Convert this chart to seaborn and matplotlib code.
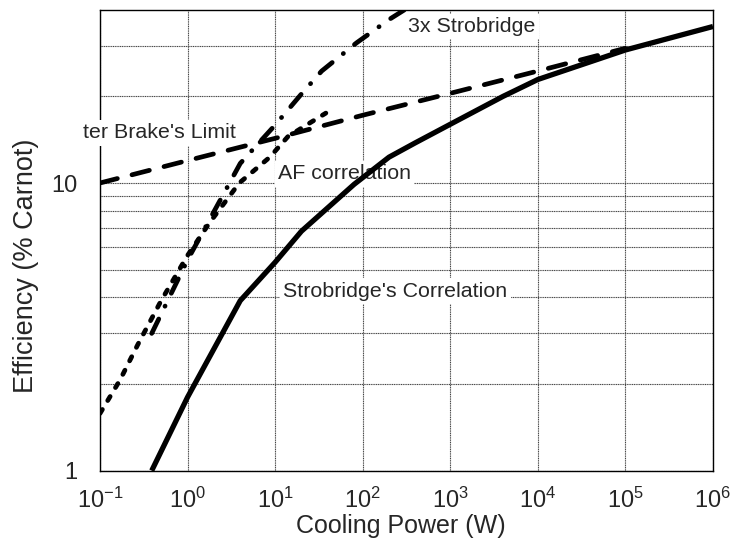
import numpy as np
import pandas as pd
import seaborn as sns
import matplotlib.pyplot as plt
from matplotlib.ticker import LogLocator, NullFormatter, FixedLocator

# Data (log-log axes)
strob_x = [0.39, 1, 2.5, 4, 10, 20, 80, 200, 400, 1000, 4000, 1e4, 1e5, 1e6]
strob_y = [1.0, 1.8, 3.0, 3.9, 5.3, 6.8, 9.9, 12.3, 13.8, 16.0, 20.0, 22.9, 29.0, 35.0]

strob3_x = [0.39, 1, 2.5, 4, 10, 20, 34, 85, 200, 300]
strob3_y = [3.0, 5.4, 9.0, 11.7, 15.9, 20.4, 24.5, 30.7, 37.0, 40.0]

af_x = [0.1, 0.17, 0.27, 0.5, 1, 1.8, 3.9, 8.7, 14, 22, 38]
af_y = [1.58, 2.07, 2.74, 3.9, 5.6, 7.3, 10.0, 12.3, 14.5, 15.8, 17.5]

brake_x = [0.1, 1, 10, 100, 1000, 1e4, 1e5]
brake_y = [10.0, 11.97, 14.3, 17.2, 20.5, 24.5, 29.4]

sns.set_style("white")
plt.rcParams['font.family'] = ['Liberation Sans', 'DejaVu Sans']
plt.rcParams['mathtext.fontset'] = 'custom'
plt.rcParams['mathtext.rm'] = 'Liberation Sans'
plt.rcParams['mathtext.it'] = 'Liberation Sans:italic'

fig = plt.figure(figsize=(7.35, 5.46), dpi=100)
ax = fig.add_axes([0.136, 0.138, 0.834, 0.844])

lw = 3.4
sns.lineplot(x=strob_x, y=strob_y, ax=ax, color='black', lw=lw + 0.4,
             sort=False, estimator=None, zorder=5, solid_capstyle='butt')
sns.lineplot(x=strob3_x, y=strob3_y, ax=ax, color='black', lw=lw,
             sort=False, estimator=None, zorder=5,
             linestyle=(0, (3.4, 3.0, 0.05, 3.0)), dash_capstyle='round')
sns.lineplot(x=af_x, y=af_y, ax=ax, color='black', lw=lw,
             sort=False, estimator=None, zorder=5,
             linestyle=(0, (1.0, 2.2)), dash_capstyle='round')
sns.lineplot(x=brake_x, y=brake_y, ax=ax, color='black', lw=lw,
             sort=False, estimator=None, zorder=5,
             linestyle=(0, (3.8, 3.2)), dash_capstyle='round')

ax.set_xscale('log')
ax.set_yscale('log')
ax.set_xlim(0.1, 1e6)
ax.set_ylim(1, 40)

ax.xaxis.set_major_locator(FixedLocator([10.0 ** k for k in range(-1, 7)]))
ax.set_xticklabels([f"$10^{{{k}}}$" for k in range(-1, 7)])
ax.xaxis.set_minor_locator(LogLocator(base=10, subs=np.arange(2, 10), numticks=20))
ax.xaxis.set_minor_formatter(NullFormatter())
ax.yaxis.set_major_locator(FixedLocator([1, 10]))
ax.set_yticklabels(['1', '10'])
ax.yaxis.set_minor_locator(FixedLocator([2, 3, 4, 5, 6, 7, 8, 9, 20, 30]))
ax.yaxis.set_minor_formatter(NullFormatter())

ax.tick_params(axis='x', which='major', direction='in', length=0, pad=12, labelsize=17)
ax.tick_params(axis='x', which='minor', direction='in', length=4, width=0.9, color='black')
ax.tick_params(axis='y', which='both', direction='in', length=0, pad=16, labelsize=17)

gkw = dict(color='#444444', lw=0.8, linestyle=(0, (1, 0.6)))
ax.grid(True, which='major', axis='both', **gkw)
ax.grid(True, which='minor', axis='y', **gkw)
ax.set_axisbelow(True)

for s in ax.spines.values():
    s.set_color('black')
    s.set_linewidth(1.0)

ax.set_xlabel('Cooling Power (W)', fontsize=18)
ax.set_ylabel('Efficiency (% Carnot)', fontsize=19.5)
ax.xaxis.set_label_coords(0.49, -0.094)
ax.yaxis.set_label_coords(-0.0995, 0.444)

box = dict(facecolor='white', edgecolor='none', pad=2.5)
tkw = dict(fontsize=15.4, va='center', ha='left', bbox=box, zorder=3)
ax.text(0.064, 14.95, "ter Brake's Limit", clip_on=False, **tkw)
ax.text(10.8, 10.75, "AF correlation", **tkw)
ax.text(328, 35.0, "3x Strobridge", **tkw)
ax.text(12.3, 4.2, "Strobridge's Correlation", **tkw)

fig.savefig('out.png', dpi=100)
